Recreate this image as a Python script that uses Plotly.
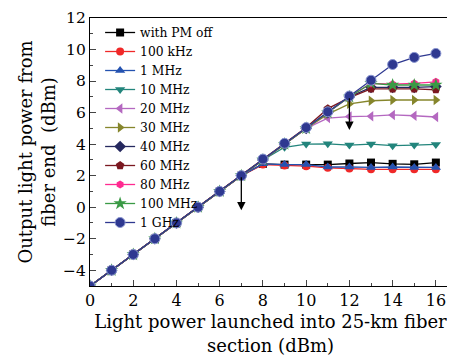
import plotly.graph_objects as go

x_vals = list(range(0, 17))
base = [-5, -4, -3, -2, -1, 0, 1, 2]

series_names = ["with PM off", "100 kHz", "1 MHz", "10 MHz", "20 MHz", "30 MHz",
                "40 MHz", "60 MHz", "80 MHz", "100 MHz", "1 GHz"]

pm_off   = base + [2.75, 2.70, 2.70, 2.70, 2.77, 2.83, 2.75, 2.72, 2.83]
khz100   = base + [2.70, 2.65, 2.60, 2.50, 2.45, 2.40, 2.40, 2.40, 2.40]
mhz1     = base + [2.75, 2.70, 2.70, 2.55, 2.55, 2.52, 2.55, 2.52, 2.52]
mhz10    = base + [3.00, 3.80, 4.00, 4.02, 3.94, 4.00, 3.90, 3.94, 3.98]
mhz20    = base + [3.00, 4.00, 5.00, 5.65, 5.75, 5.77, 5.85, 5.80, 5.72]
mhz30    = base + [3.00, 4.00, 5.00, 5.90, 6.55, 6.75, 6.80, 6.80, 6.80]
mhz40    = base + [3.00, 4.00, 5.00, 6.00, 7.00, 7.60, 7.60, 7.60, 7.65]
mhz60    = base + [3.00, 4.00, 5.05, 6.25, 6.95, 7.50, 7.50, 7.50, 7.45]
mhz80    = base + [3.00, 4.00, 5.00, 6.00, 7.00, 7.85, 7.80, 7.85, 7.95]
mhz100   = base + [3.00, 4.00, 5.00, 6.00, 7.00, 7.85, 7.75, 7.75, 7.75]
ghz1     = base + [3.05, 4.05, 5.05, 6.05, 7.05, 8.05, 9.05, 9.50, 9.75]

series_values = [pm_off, khz100, mhz1, mhz10, mhz20, mhz30, mhz40, mhz60, mhz80, mhz100, ghz1]

colors = ["#000000", "#f02828", "#2452b0", "#23857c", "#b468c0", "#86862c",
          "#25285e", "#7a1820", "#ff2a90", "#3a9a45", "#2e3890"]
symbols = ["square", "circle", "triangle-up", "triangle-down", "triangle-left",
           "triangle-right", "diamond", "pentagon", "hexagon", "star", "circle"]
sizes = [8, 8, 9, 9, 9, 9, 9, 9, 8, 10, 10]

# arrows: (x, y_tail, y_head)
arrow_x = [7, 12]
arrow_tail = [2.0, 7.0]
arrow_head = [-0.2, 4.9]

x_ticks = [0, 2, 4, 6, 8, 10, 12, 14, 16]
y_ticks = [-4, -2, 0, 2, 4, 6, 8, 10, 12]

FONT = "DejaVu Serif"

fig = go.Figure()
for name, yv, c, s, sz in zip(series_names, series_values, colors, symbols, sizes):
    mline = dict(width=1, color="#8a96d0") if name == "1 GHz" else dict(width=0)
    fig.add_trace(go.Scatter(
        x=x_vals, y=yv, name=name, mode="lines+markers",
        line=dict(color=c, width=1.3),
        marker=dict(symbol=s, size=sz, color=c, line=mline),
    ))

annotations = []
for ax_, yt, yh in zip(arrow_x, arrow_tail, arrow_head):
    annotations.append(dict(
        x=ax_, y=yh, ax=ax_, ay=yt, xref="x", yref="y", axref="x", ayref="y",
        showarrow=True, arrowhead=2, arrowsize=1.3, arrowwidth=1.3,
        arrowcolor="#000000", text="", standoff=0, startstandoff=0,
    ))

# page body adds an 8px offset, so the figure is sized to end at the window edge
fig.update_layout(
    width=447, height=352,
    margin=dict(l=82, r=4, t=10, b=74),
    paper_bgcolor="white", plot_bgcolor="white",
    font=dict(family=FONT, size=16, color="#000000"),
    showlegend=True,
    legend=dict(x=0.028, y=1.0, xanchor="left", yanchor="top",
                bgcolor="rgba(0,0,0,0)", borderwidth=0,
                font=dict(family=FONT, size=12.3, color="#000000"),
                tracegroupgap=0, itemwidth=30),
    annotations=annotations,
    xaxis=dict(
        range=[0, 16.7], tickvals=x_ticks, ticks="inside", ticklen=6, tickwidth=1,
        minor=dict(dtick=1, ticks="inside", ticklen=3, tickwidth=1),
        showline=True, linecolor="#000000", linewidth=1.2, mirror=True,
        showgrid=False, zeroline=False, automargin=False,
        tickfont=dict(family=FONT, size=16),
        title=dict(text="Light power launched into 25-km fiber<br>section (dBm)",
                   font=dict(family=FONT, size=18), standoff=6),
    ),
    yaxis=dict(
        range=[-5, 12], tickvals=y_ticks, ticks="inside", ticklen=6, tickwidth=1,
        minor=dict(dtick=1, ticks="inside", ticklen=3, tickwidth=1),
        showline=True, linecolor="#000000", linewidth=1.2,
        showgrid=False, zeroline=False, automargin=False,
        ticklabeloverflow="allow",
        tickfont=dict(family=FONT, size=15.5),
        title=dict(text="Output light power from<br>fiber end  (dBm)",
                   font=dict(family=FONT, size=18), standoff=2),
    ),
)

fig.write_html("out.html")
